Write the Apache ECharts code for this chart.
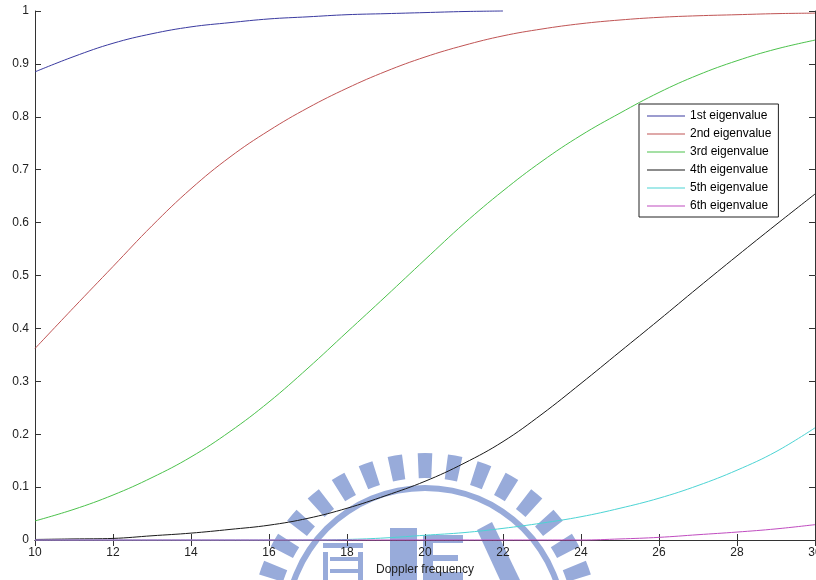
<!DOCTYPE html>
<html>
<head>
<meta charset="utf-8">
<script src="https://cdn.jsdelivr.net/npm/echarts@6/dist/echarts.min.js"></script>
<style>
html,body{margin:0;padding:0;background:#fff;}
#chart{width:816px;height:580px;}
</style>
</head>
<body>
<div id="chart"></div>
<script>
// Doppler frequency samples
var freqs = [10,11,12,13,14,15,16,17,18,19,20,21,22,23,24,25,26,27,28,29,30];
var xTicks = [10,12,14,16,18,20,22,24,26,28,30];
var seriesNames = ['1st eigenvalue','2nd eigenvalue','3rd eigenvalue','4th eigenvalue','5th eigenvalue','6th eigenvalue'];
// normalized eigenvalues
var ev1 = [0.885,0.914,0.939,0.957,0.970,0.978,0.985,0.989,0.993,0.995,0.997,0.999,1.000];
var ev2 = [0.362,0.440,0.517,0.594,0.664,0.724,0.774,0.817,0.854,0.886,0.913,0.935,0.953,0.966,0.976,0.983,0.988,0.991,0.993,0.995,0.996];
var ev3 = [0.036,0.058,0.085,0.118,0.157,0.205,0.261,0.325,0.393,0.461,0.530,0.598,0.660,0.716,0.765,0.807,0.846,0.879,0.906,0.928,0.945];
var ev4 = [0.001,0.002,0.003,0.008,0.013,0.020,0.028,0.041,0.060,0.084,0.111,0.145,0.186,0.238,0.296,0.356,0.416,0.477,0.537,0.596,0.654];
var ev5 = [0,0,0,0,0,0,0,0,0.001,0.004,0.009,0.014,0.022,0.032,0.044,0.060,0.079,0.103,0.132,0.167,0.212];
var ev6 = [0,0,0,0,0,0,0,0,0,0,0,0,0,0,0,0.002,0.005,0.010,0.015,0.021,0.029];
var colors = ['#3a3aa0','#c05454','#4cc24c','#1a1a1a','#4cd4d4','#c04cc0'];

var allSeries = [ev1,ev2,ev3,ev4,ev5,ev6];
function pairs(arr){ return arr.map(function(v,i){ return [freqs[i], v]; }); }

var font = '"Liberation Sans", Arial, sans-serif';
var axisCol = '#333';

// watermark decoration (logo approximation)
var wm = '#98abda';
var cx = 425, cy = 627;
var graphics = [];
for (var k = -9; k <= 9; k++) {
  var a = -Math.PI/2 + k*10*Math.PI/180;
  var hw = 2.4*Math.PI/180;
  graphics.push({type:'sector', z:-1, silent:true, shape:{cx:cx, cy:cy, r:174, r0:149, startAngle:a-hw, endAngle:a+hw}, style:{fill:wm}});
}
graphics.push({type:'ring', z:-1, silent:true, shape:{cx:cx, cy:cy, r:142, r0:136}, style:{fill:wm}});
var rects = [[323,543,40,5],[330,557,30,4],[330,569,30,4],[323,552,5,28],[358,552,5,28],
             [390,528,27,52],[423,535,40,8],[423,535,10,45],[423,555,35,6],[423,572,40,8]];
rects.forEach(function(r){
  graphics.push({type:'rect', z:-1, silent:true, shape:{x:r[0],y:r[1],width:r[2],height:r[3]}, style:{fill:wm}});
});
graphics.push({type:'polygon', z:-1, silent:true, shape:{points:[[477,530],[492,522],[520,580],[500,580]]}, style:{fill:wm}});

var chart = echarts.init(document.getElementById('chart'), null, {renderer:'canvas'});
var option = {
  animation: false,
  backgroundColor: '#fff',
  color: colors,
  graphic: graphics,
  grid: {left:35, right:1, top:11, bottom:40, containLabel:false, outerBoundsMode:'none'},
  legend: {
    orient:'vertical', left:639, top:104,
    padding:[5,7,4,8], itemGap:4, itemWidth:38, itemHeight:1,
    icon:'rect',
    backgroundColor:'#fff', borderColor:'#222', borderWidth:1,
    textStyle:{fontFamily:font, fontSize:12, lineHeight:14, color:'#000'},
    data: seriesNames
  },
  xAxis: [{
    type:'value', min:10, max:30, interval:2, position:'bottom',
    name:'Doppler frequency', nameLocation:'middle', nameGap:22,
    nameTextStyle:{fontFamily:font, fontSize:12, color:'#222'},
    axisLine:{show:true, lineStyle:{color:axisCol, width:1}},
    axisTick:{show:true, inside:true, length:6, lineStyle:{color:axisCol}},
    axisLabel:{fontFamily:font, fontSize:12, color:'#222', margin:7, hideOverlap:false,
      formatter:function(v){ return xTicks.indexOf(v) >= 0 ? String(v) : ''; }},
    splitLine:{show:false}
  },{
    type:'value', min:10, max:30, interval:2, position:'top',
    axisLine:{show:true, lineStyle:{color:axisCol, width:1}},
    axisTick:{show:true, inside:true, length:6, lineStyle:{color:axisCol}},
    axisLabel:{show:false}, splitLine:{show:false}
  }],
  yAxis: [{
    type:'value', min:0, max:1, interval:0.1, position:'left',
    axisLine:{show:true, lineStyle:{color:axisCol, width:1}},
    axisTick:{show:true, inside:true, length:6, lineStyle:{color:axisCol}},
    axisLabel:{fontFamily:font, fontSize:12, color:'#222', margin:6},
    splitLine:{show:false}
  },{
    type:'value', min:0, max:1, interval:0.1, position:'right',
    axisLine:{show:true, lineStyle:{color:axisCol, width:1}},
    axisTick:{show:true, inside:true, length:6, lineStyle:{color:axisCol}},
    axisLabel:{show:false}, splitLine:{show:false}
  }],
  series: allSeries.map(function(arr, i){
    return {
      name: seriesNames[i], type:'line', xAxisIndex:0, yAxisIndex:0,
      data: pairs(arr), smooth:0.4, symbol:'none', clip:false,
      lineStyle:{width:1, color:colors[i]}, z: 3+i
    };
  })
};
chart.setOption(option);
</script>
</body>
</html>
